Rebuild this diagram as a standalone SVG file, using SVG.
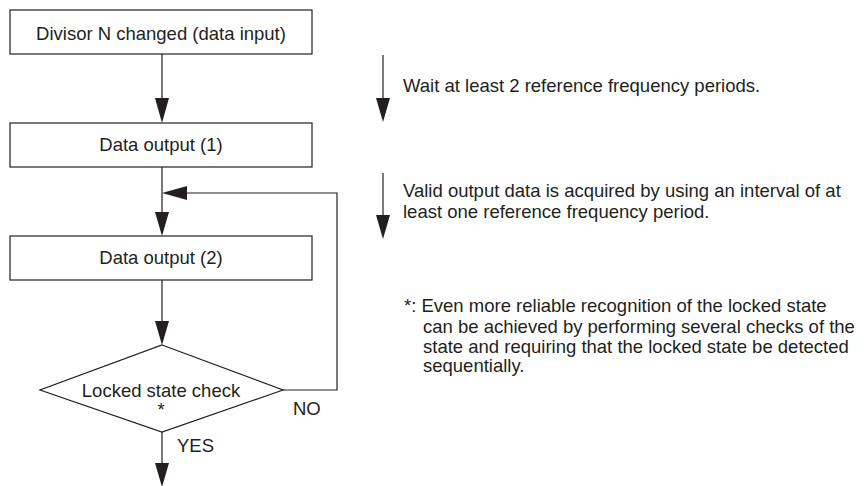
<svg xmlns="http://www.w3.org/2000/svg" width="867" height="486" viewBox="0 0 867 486">
<defs>
<style>
.box{fill:#fff;stroke:#231f20;stroke-width:1.2}
.ln{fill:none;stroke:#231f20;stroke-width:1.2}
.ah{fill:#231f20}
text{font-family:"Liberation Sans",Arial,sans-serif;font-size:18.5px;fill:#231f20}
.c{text-anchor:middle}
</style>
</defs>
<g id="connectors">
<path class="ln" d="M162,54 V98"/><path class="ah" d="M155,98 L169,98 L162,123 Z"/>
<path class="ln" d="M162,167 V212"/><path class="ah" d="M155,212 L169,212 L162,236 Z"/>
<path class="ln" d="M162,280 V321"/><path class="ah" d="M155,321 L169,321 L162,345 Z"/>
<path class="ln" d="M283,390 H337 V193 H187"/><path class="ah" d="M187,186 L187,200 L162,193 Z"/>
<path class="ln" d="M162,432 V463"/><path class="ah" d="M155,463 L169,463 L162,487 Z"/>
<path class="ln" d="M383,55 V98"/><path class="ah" d="M376,98 L390,98 L383,122 Z"/>
<path class="ln" d="M383,173 V215"/><path class="ah" d="M376,215 L390,215 L383,239 Z"/>
<text x="293" y="415">NO</text>
<text x="177" y="452">YES</text>
</g>
<g id="n1"><rect class="box" x="10" y="10" width="302" height="44"/><text class="c" x="161" y="40">Divisor N changed (data input)</text></g>
<g id="n2"><rect class="box" x="10" y="123" width="302" height="44"/><text class="c" x="161" y="151">Data output (1)</text></g>
<g id="n3"><rect class="box" x="10" y="236" width="302" height="44"/><text class="c" x="161" y="264">Data output (2)</text></g>
<g id="n4"><polygon class="box" points="162,345 283,390 162,432 40,390"/><text class="c" x="161" y="397">Locked state check</text><text class="c" x="161" y="416">*</text></g>
<g id="notes">
<text x="403" y="92">Wait at least 2 reference frequency periods.</text>
<text x="403" y="197">Valid output data is acquired by using an interval of at</text>
<text x="403" y="218">least one reference frequency period.</text>
<text x="404" y="312">*: Even more reliable recognition of the locked state</text>
<text x="423" y="333">can be achieved by performing several checks of the</text>
<text x="423" y="353">state and requiring that the locked state be detected</text>
<text x="423" y="372">sequentially.</text>
</g>
</svg>
